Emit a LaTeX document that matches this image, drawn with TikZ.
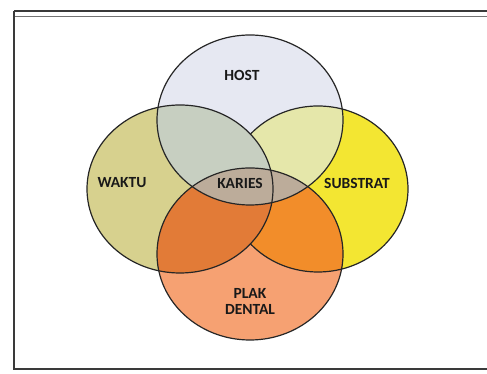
\documentclass[tikz,border=0pt]{standalone}
\usepackage{fontspec}
\setmainfont{Carlito}
\usepackage{tikz}
\usetikzlibrary{positioning}
\definecolor{hostcol}{HTML}{E6E8F2}
\definecolor{waktucol}{HTML}{D7D18E}
\definecolor{substratcol}{HTML}{F3E632}
\definecolor{plakcol}{HTML}{F6A172}
\definecolor{hwcol}{HTML}{C7CFC1}
\definecolor{hscol}{HTML}{E5E7AA}
\definecolor{pwcol}{HTML}{E27B37}
\definecolor{pscol}{HTML}{F28D2A}
\definecolor{kariescol}{HTML}{BCAC9A}
\definecolor{framecol}{HTML}{3A3A3A}
\tikzset{%
  ring/.style={draw=black!85, line width=1.2pt},
  label/.style={font=\fontsize{15.5}{16}\selectfont\bfseries, text=black!90, align=center, inner sep=1pt},
  frame/.style={draw=framecol, line width=1.2pt}%
}
% the four sets of the diagram
\newcommand{\hostset}{(250,254) ellipse [x radius=93, y radius=85]}
\newcommand{\plakset}{(250,120) ellipse [x radius=93, y radius=86]}
\newcommand{\waktuset}{(180,185) ellipse [x radius=93, y radius=84]}
\newcommand{\substratset}{(318,185) ellipse [x radius=90, y radius=83]}

\begin{document}
\begin{tikzpicture}[x=1pt, y=1pt]
\useasboundingbox (0,0) rectangle (487,374);

% outer frame
\draw[frame] (14,363) -- (487,363);
\draw[frame, line width=0.9pt, draw=black!55] (14,358) -- (487,358);
\draw[frame] (14,363) -- (14,5) -- (487,5);

% plain fills
\fill[waktucol] \waktuset;
\fill[substratcol] \substratset;
\fill[hostcol] \hostset;
\fill[plakcol] \plakset;

% overlaps with HOST
\begin{scope}
  \clip \hostset;
  \fill[hscol] \substratset;
  \fill[hwcol] \waktuset;
\end{scope}

% overlaps with PLAK DENTAL
\begin{scope}
  \clip \plakset;
  \fill[pscol] \substratset;
  \fill[pwcol] \waktuset;
\end{scope}

% KARIES in the middle
\begin{scope}
  \clip \hostset;
  \fill[kariescol] \plakset;
\end{scope}

% outlines (SUBSTRAT edge hidden inside WAKTU)
\begin{scope}[even odd rule]
  \clip (0,0) rectangle (487,374) \waktuset;
  \draw[ring] \substratset;
\end{scope}
\draw[ring] \waktuset;
\draw[ring] \hostset;
\draw[ring] \plakset;

% texts
\node[label] (host) at (242,299) {HOST};
\node[label] (waktu) at (122,191) {WAKTU};
\node[label] (karies) at (240,191) {KARIES};
\node[label] (substrat) at (357,191) {SUBSTRAT};
\node[label] (plak) at (250,73) {PLAK\\DENTAL};

\end{tikzpicture}
\end{document}
